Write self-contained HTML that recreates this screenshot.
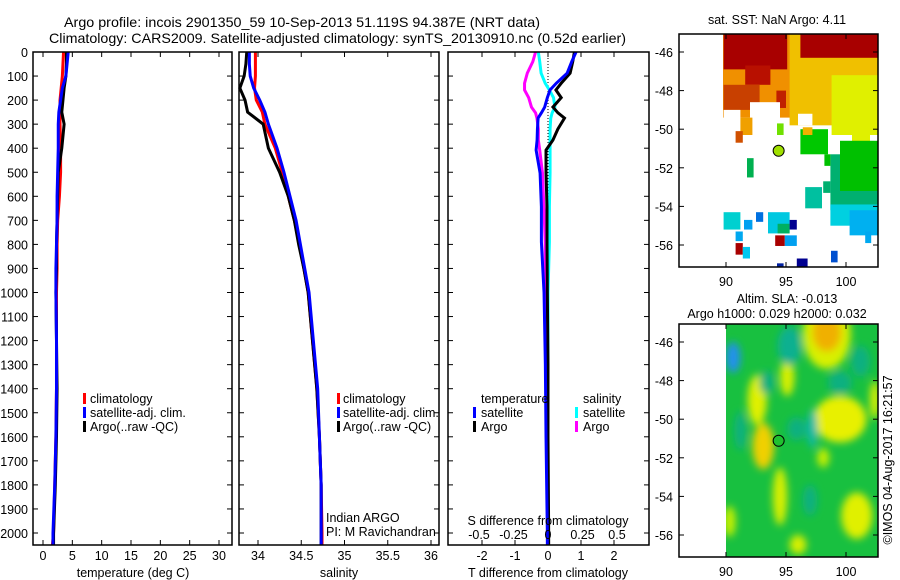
<!DOCTYPE html>
<html><head><meta charset="utf-8">
<style>
html,body{margin:0;padding:0;background:#fff;}
svg{display:block;font-family:"Liberation Sans",sans-serif;}
text{font-size:12.5px;fill:#000;}
</style></head>
<body>
<svg id="chart" width="900" height="580" viewBox="0 0 900 580" xmlns="http://www.w3.org/2000/svg">
<defs>
<clipPath id="clipSST"><rect x="679" y="34" width="199" height="233"/></clipPath>
<clipPath id="clipSLA"><rect x="679" y="324" width="199" height="233"/></clipPath>
<filter id="blur" x="-50%" y="-50%" width="200%" height="200%"><feGaussianBlur stdDeviation="4"/></filter>
</defs>
<text x="64" y="27" style="font-size:14px" textLength="476" lengthAdjust="spacingAndGlyphs">Argo profile: incois 2901350_59 10-Sep-2013 51.119S 94.387E (NRT data)</text>
<text x="49" y="43" style="font-size:14px" textLength="577" lengthAdjust="spacingAndGlyphs">Climatology: CARS2009. Satellite-adjusted climatology: synTS_20130910.nc (0.52d earlier)</text>
<g id="g"></g>
</svg>
<script>
// ---------- profile data ----------
const depthT = [0,50,100,150,200,250,300,400,500,600,700,800,900,1000,1200,1400,1600,1800,2000,2050];
const tempClim = [3.5,3.4,3.3,3.1,2.9,2.9,2.9,3.0,3.0,2.8,2.5,2.4,2.4,2.3,2.3,2.3,2.2,2.0,1.8,1.6];
const tempSat  = [4.3,4.1,3.9,3.3,3.0,2.7,2.6,2.6,2.5,2.4,2.4,2.3,2.2,2.2,2.3,2.3,2.2,2.0,1.7,1.7];
const tempArgo = [4.0,4.0,3.9,3.6,3.4,3.2,3.6,3.2,2.6,2.5,2.4,2.3,2.3,2.2,2.3,2.4,2.3,2.1,1.8,1.8];
const depthS = [0,50,100,150,200,250,300,400,500,600,700,800,900,1000,1200,1400,1600,1800,2000,2050];
const salClim = [33.97,33.97,33.97,33.96,33.98,34.05,34.08,34.20,34.28,34.35,34.42,34.48,34.53,34.58,34.63,34.68,34.71,34.73,34.74,34.74];
const salSat  = [33.90,33.90,33.91,33.95,34.02,34.08,34.12,34.22,34.30,34.37,34.44,34.49,34.54,34.59,34.64,34.69,34.71,34.73,34.73,34.73];
const salArgo = [33.87,33.86,33.84,33.79,33.85,33.88,34.06,34.12,34.25,34.35,34.42,34.47,34.53,34.58,34.63,34.68,34.71,34.73,34.73,34.73];
const depthD = [0,40,88,130,158,190,229,253,275,320,366,408,503,644,790,1000,1300,1600,2000,2050];
const dTsat  = [0.85,0.72,0.58,0.25,0.06,-0.02,-0.10,-0.20,-0.30,-0.32,-0.33,-0.36,-0.24,-0.20,-0.20,-0.12,-0.08,-0.06,-0.02,-0.02];
const dTargo = [0.80,0.75,0.67,0.40,0.24,0.40,0.15,0.30,0.50,0.30,0.15,-0.06,-0.06,-0.03,-0.03,-0.02,0.00,0.00,0.02,0.02];
const dSsat  = [-0.07,-0.06,-0.05,-0.02,0.01,0.04,0.05,0.03,0.02,0.015,0.015,0.015,0.015,0.01,0.01,0.0,0.0,0.0,0.0,0.0];
const dSargo = [-0.09,-0.11,-0.15,-0.17,-0.17,-0.14,-0.12,-0.09,-0.08,-0.07,-0.07,-0.06,-0.04,-0.03,-0.02,-0.02,-0.01,0.0,0.0,0.0];
const depthTicks = [0,100,200,300,400,500,600,700,800,900,1000,1100,1200,1300,1400,1500,1600,1700,1800,1900,2000];
const tempTicks = [0,5,10,15,20,25,30];
const salTicks = [34,34.5,35,35.5,36];
const tdiffTicks = [-2,-1,0,1,2];
const sdiffTicks = [-0.5,-0.25,0,0.25,0.5];
const sdiffLabels = ["-0.5","-0.25","0","0.25","0.5"];
const latTicks = [-46,-48,-50,-52,-54,-56];
const lonTicks = [90,95,100];
// SST cells: [lon1, lon2, latTop, latBottom, colour]
const sstCells = [
[89.75,96.2,-45.07,-49.4,"#f09000"],[95.3,102.7,-45.07,-49.8,"#f0c000"],[98.8,102.7,-47.2,-50.3,"#e0f000"],
[89.8,95.1,-45.07,-46.9,"#a80000"],[96.2,102.7,-45.07,-46.3,"#a80000"],[91.6,93.7,-46.7,-47.7,"#b81000"],
[89.8,92.8,-47.7,-49.0,"#c84000"],[94.2,95.0,-48.0,-48.9,"#c02000"],
[92.0,94.5,-48.6,-49.9,"#ffffff"],[89.8,91.2,-49.0,-50.3,"#ffffff"],[96.0,97.2,-49.2,-49.8,"#ffffff"],
[91.2,92.2,-49.4,-50.3,"#f0a000"],[90.8,91.4,-50.1,-50.7,"#d05000"],[94.25,94.8,-49.7,-50.3,"#70e000"],
[96.2,98.5,-50.0,-51.3,"#00c800"],[96.4,97.2,-49.9,-50.3,"#f0b000"],[100.5,102.0,-50.0,-51.1,"#e0f000"],
[98.7,102.7,-51.3,-54.2,"#00b070"],[99.5,102.7,-50.6,-53.2,"#00c000"],[98.2,98.7,-51.3,-51.9,"#00c000"],
[96.6,98.0,-53.0,-54.1,"#00c0a0"],[98.1,98.7,-52.7,-53.3,"#00b070"],[91.75,92.3,-51.5,-52.5,"#00b050"],
[98.7,102.7,-53.9,-55.0,"#00d0e0"],[100.3,102.7,-54.2,-55.5,"#00b0f0"],[89.8,91.2,-54.3,-55.2,"#00d0d0"],
[91.5,92.2,-54.7,-55.2,"#00a0f0"],[92.5,93.1,-54.3,-54.8,"#0070e0"],[93.5,95.3,-54.3,-55.4,"#00c8e0"],
[94.3,95.3,-54.9,-55.4,"#00b060"],[95.3,95.9,-54.7,-55.2,"#000090"],[94.1,94.9,-55.5,-56.05,"#a80000"],
[94.9,95.9,-55.5,-56.05,"#00a0f0"],[90.8,91.4,-55.3,-55.8,"#00a8f0"],[90.8,91.4,-55.9,-56.5,"#a80000"],
[91.4,92.0,-56.1,-56.7,"#00c8f0"],[98.75,99.3,-56.3,-56.9,"#0050d0"],[95.9,96.8,-56.7,-57.2,"#000090"],
[94.25,94.8,-56.95,-57.2,"#0020a0"],[101.6,102.1,-55.3,-55.9,"#00a8f0"]
];
// SLA blobs: [lon, lat, rxDeg, ryDeg, colour]
const slaBlobs = [
[98.4,-45.6,2.0,1.8,"#d8f000"],[98.4,-45.5,1.2,1.0,"#f0b000"],[90.6,-46.8,0.6,0.8,"#2090f0"],
[99.5,-50.0,2.2,1.2,"#e8f000"],[93.1,-51.4,0.9,1.2,"#f0d000"],[92.6,-49.0,0.8,1.3,"#e0f000"],
[95.1,-47.8,0.6,1.0,"#d8f000"],[94.5,-54.0,0.6,1.5,"#d8f000"],[100.9,-55.0,1.3,1.2,"#e0f000"],
[98.1,-52.0,0.5,0.5,"#c8f000"],[90.3,-55.3,0.5,0.8,"#c8f000"],[102.4,-49.0,0.4,1.0,"#e0f000"],
[95.9,-50.5,0.8,0.6,"#10b080"],[97.2,-50.5,0.4,1.0,"#10b8b0"],[99.5,-48.1,1.0,0.6,"#10b080"],
[93.4,-48.1,0.6,0.6,"#10b080"],[95.3,-46.2,1.0,1.0,"#10b090"],[101.2,-47.0,0.8,0.8,"#10b080"],
[97.0,-54.2,0.6,0.8,"#10b080"],[91.2,-50.6,0.5,1.0,"#10b080"],[96.0,-56.5,0.7,0.5,"#d8f000"]
];
const argoLon = [94.387];
const argoLat = [-51.119];

// ---------- helpers ----------
const NS = "http://www.w3.org/2000/svg";
const g = document.getElementById('g');
function mk(tag, attrs, parent){
  const e = document.createElementNS(NS, tag);
  for (const k in attrs) e.setAttribute(k, attrs[k]);
  (parent||g).appendChild(e);
  return e;
}
const yD = d => 52 + d * 0.2405;
const xT = v => 43 + v * 5.867;
const xS = v => 258 + (v - 34) * 86.5;
const xDT = v => 548 + v * 33;
const xDS = v => 548 + v * 138;
const xLon = v => 726 + (v - 90) * 12;
const ySST = v => 52 + (-46 - v) * 19.3;
const ySLA = v => 342 + (-46 - v) * 19.3;

function frame(x1,y1,x2,y2,name){
  const r = mk('rect',{x:x1,y:y1,width:x2-x1,height:y2-y1,fill:'none',stroke:'#000','stroke-width':1.5});
  
  
}
function line(points, xf, depths, color, name){
  const p = mk('polyline',{points: points.map((v,i)=>xf(v)+','+yD(depths[i])).join(' '), fill:'none', stroke:color, 'stroke-width':3, 'stroke-linejoin':'miter'});
  
  
}
function txt(x,y,s,anchor,name,size){
  const t = mk('text',{x:x,y:y,'text-anchor':anchor||'start'});
  if(size) t.style.fontSize = size+'px';
  t.textContent = s;
  
  
  return t;
}
function xticks(x1,x2,yTop,yBot,vals,xf){
  vals.forEach(v=>{
    const x = xf(v);
    mk('line',{x1:x,x2:x,y1:yBot,y2:yBot-5,stroke:'#000','stroke-width':1});
    mk('line',{x1:x,x2:x,y1:yTop,y2:yTop+5,stroke:'#000','stroke-width':1});
  });
}
function yticks(x1,x2,vals,yf){
  vals.forEach(v=>{
    const y = yf(v);
    mk('line',{x1:x1,x2:x1+5,y1:y,y2:y,stroke:'#000','stroke-width':1});
    mk('line',{x1:x2,x2:x2-5,y1:y,y2:y,stroke:'#000','stroke-width':1});
  });
}

// ---------- panel 1: temperature ----------
yticks(33,232,depthTicks,yD);
depthTicks.forEach(d=>txt(28,yD(d)+5,String(d),'end','depth-tick-label'));
xticks(33,232,52,545,tempTicks,xT);
tempTicks.forEach(v=>txt(xT(v),560,String(v),'middle','temperature-tick-label'));
line(tempClim,xT,depthT,'#ff0000','temp-climatology-line');
line(tempArgo,xT,depthT,'#000000','temp-argo-line');
line(tempSat,xT,depthT,'#0000ff','temp-satellite-line');
frame(33,52,232,545,'temperature-panel');
txt(133,577,'temperature (deg C)','middle','temperature-axis-title');
[['#ff0000','climatology'],['#0000ff','satellite-adj. clim.'],['#000000','Argo(..raw -QC)']].forEach((l,i)=>{
  const r = mk('rect',{x:83,y:393+i*14,width:3,height:11,fill:l[0]});
  
  
  txt(90,403+i*14,l[1],'start','legend-entry');
});

// ---------- panel 2: salinity ----------
yticks(239,439,depthTicks,yD);
xticks(239,439,52,545,salTicks,xS);
salTicks.forEach(v=>txt(xS(v),560,String(v),'middle','salinity-tick-label'));
line(salClim,xS,depthS,'#ff0000','sal-climatology-line');
line(salArgo,xS,depthS,'#000000','sal-argo-line');
line(salSat,xS,depthS,'#0000ff','sal-satellite-line');
frame(239,52,439,545,'salinity-panel');
txt(339,577,'salinity','middle','salinity-axis-title');
[['#ff0000','climatology'],['#0000ff','satellite-adj. clim.'],['#000000','Argo(..raw -QC)']].forEach((l,i)=>{
  const r = mk('rect',{x:337,y:393+i*14,width:3,height:11,fill:l[0]});
  
  
  txt(343,403+i*14,l[1],'start','legend-entry');
});
txt(326,522,'Indian ARGO','start','credit-indian-argo');
txt(326,536,'PI: M Ravichandran','start','credit-pi');

// ---------- panel 3: differences ----------
yticks(448,649,depthTicks,yD);
xticks(448,649,52,545,tdiffTicks,xDT);
tdiffTicks.forEach(v=>txt(xDT(v),560,String(v),'middle','tdiff-tick-label'));
mk('line',{x1:548,x2:548,y1:52,y2:545,stroke:'#000','stroke-width':1,'stroke-dasharray':'1,2'});
line(dSsat,xDS,depthD,'#00ffff','sdiff-satellite-line');
line(dSargo,xDS,depthD,'#ff00ff','sdiff-argo-line');
line(dTargo,xDT,depthD,'#000000','tdiff-argo-line');
line(dTsat,xDT,depthD,'#0000ff','tdiff-satellite-line');
frame(448,52,649,545,'difference-panel');
txt(548,525,'S difference from climatology','middle','sdiff-axis-title');
sdiffTicks.forEach((v,i)=>txt(xDS(v),539,sdiffLabels[i],'middle','sdiff-tick-label'));
txt(548,577,'T difference from climatology','middle','tdiff-axis-title');
txt(481,403,'temperature','start','legend-heading-temperature');
txt(583,403,'salinity','start','legend-heading-salinity');
[[473,'#0000ff','satellite',0],[473,'#000000','Argo',1],[575,'#00ffff','satellite',0],[575,'#ff00ff','Argo',1]].forEach(l=>{
  const r = mk('rect',{x:l[0],y:407+l[3]*14,width:3,height:11,fill:l[1]});
  
  
  txt(l[0]+8,417+l[3]*14,l[2],'start','legend-entry');
});

// ---------- map 1: SST ----------
const sst = mk('g',{'clip-path':'url(#clipSST)'});


sstCells.forEach(c=>{
  const r = mk('rect',{x:xLon(c[0]),y:ySST(c[2]),width:xLon(c[1])-xLon(c[0]),height:ySST(c[3])-ySST(c[2]),fill:c[4]},sst);
  
  
});
const m1 = mk('circle',{cx:xLon(argoLon[0]),cy:ySST(argoLat[0]),r:5.5,fill:'#a0e000',stroke:'#000','stroke-width':1});


frame(679,34,878,267,'sst-map-frame');
yticks(679,878,latTicks,ySST);
xticks(679,878,34,267,lonTicks,xLon);
latTicks.forEach(v=>txt(673,ySST(v)+5,String(v),'end','lat-tick-label'));
lonTicks.forEach(v=>txt(xLon(v),286,String(v),'middle','lon-tick-label'));
txt(777,24,'sat. SST: NaN Argo: 4.11','middle','sst-map-title');

// ---------- map 2: SLA ----------
const sla = mk('g',{'clip-path':'url(#clipSLA)'});


mk('rect',{x:xLon(90),y:324,width:878-xLon(90),height:233,fill:'#18c040'},sla);
const blobs = mk('g',{filter:'url(#blur)'},sla);
slaBlobs.forEach(b=>{
  const e = mk('ellipse',{cx:xLon(b[0]),cy:ySLA(b[1]),rx:b[2]*12,ry:b[3]*19.3,fill:b[4]},blobs);
  
  
});
mk('rect',{x:679,y:324,width:xLon(90)-679,height:233,fill:'#fff'},sla);
const m2 = mk('circle',{cx:xLon(argoLon[0]),cy:ySLA(argoLat[0]),r:5.5,fill:'#20c030',stroke:'#000','stroke-width':1});


frame(679,324,878,557,'sla-map-frame');
yticks(679,878,latTicks,ySLA);
xticks(679,878,324,557,lonTicks,xLon);
latTicks.forEach(v=>txt(673,ySLA(v)+5,String(v),'end','lat-tick-label'));
lonTicks.forEach(v=>txt(xLon(v),576,String(v),'middle','lon-tick-label'));
txt(787,303,'Altim. SLA: -0.013','middle','sla-map-title');
txt(777,318,'Argo h1000: 0.029 h2000: 0.032','middle','sla-map-subtitle');
const stamp = txt(0,0,'©IMOS 04-Aug-2017 16:21:57','middle','timestamp');
stamp.setAttribute('transform','translate(892,460) rotate(-90)');
</script>
</body></html>
